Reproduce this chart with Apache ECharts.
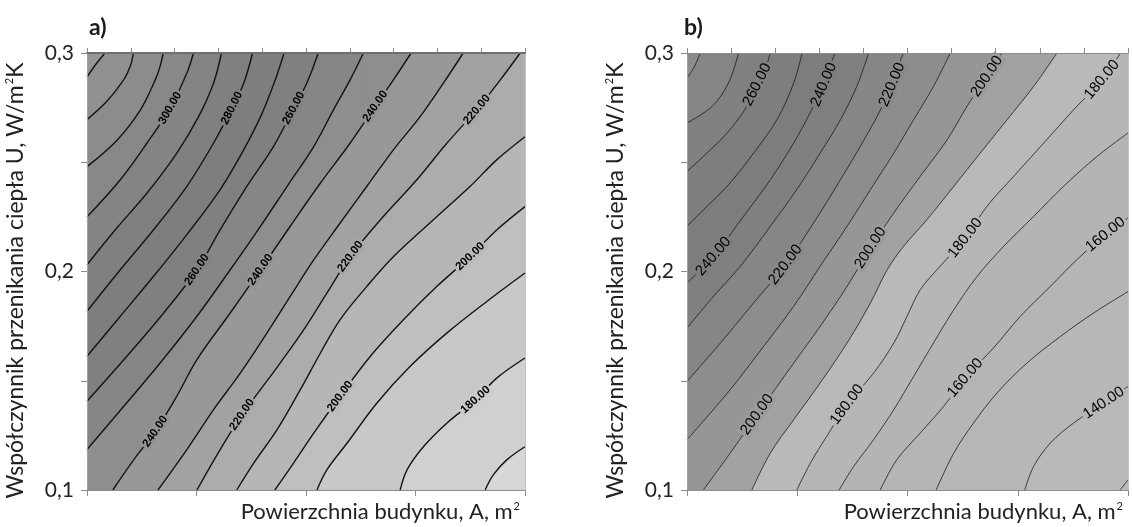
<!DOCTYPE html>
<html><head><meta charset="utf-8">
<script src="https://cdn.jsdelivr.net/npm/echarts@6/dist/echarts.min.js"></script>
<style>html,body{margin:0;padding:0;background:#fff}#c{width:1132px;height:527px}</style>
</head><body><div id="c"></div>
<script>
// ---------- DATA (x: building area axis, 0-100 % of range; y: U, W/m2K) ----------
// Panel a) contour lines
const A330 = [[0,0.289],[1.9,0.2945],[4.1,0.300]];
const A320 = [[0,0.2695],[4.6,0.278],[8.4,0.2878],[9.9,0.294],[10.6,0.300]];
const A310 = [[0,0.248],[6.8,0.260],[12.2,0.274],[15.6,0.2878],[16.7,0.294],[17.4,0.300]];
const A300 = [[0,0.225],[7.6,0.242],[13.7,0.2588],[19.0,0.2748],[22.8,0.2908],[24.3,0.300]];
const A290 = [[0,0.2031],[6.8,0.2199],[13.7,0.2359],[20.5,0.2542],[25.5,0.271],[28.9,0.2863],[30.7,0.300]];
const A280 = [[0,0.1818],[7.6,0.2008],[15.2,0.2191],[22.8,0.239],[28.9,0.2588],[33.1,0.2748],[35.8,0.2863],[37.8,0.300]];
const A270 = [[0,0.1612],[7.6,0.1795],[15.2,0.1978],[22.8,0.2169],[30.4,0.2375],[35.8,0.2558],[40.0,0.2725],[43.0,0.2878],[45.0,0.300]];
const A260 = [[0,0.1406],[9.1,0.1612],[17.5,0.181],[25.1,0.2008],[30.4,0.2191],[36.5,0.239],[42.6,0.2573],[47.2,0.2748],[50.2,0.2863],[52.8,0.300]];
const A250 = [[0,0.1185],[8.4,0.1383],[16.7,0.1581],[25.1,0.1795],[32.7,0.2008],[39.6,0.2207],[45.7,0.239],[51.8,0.2573],[56.3,0.2741],[60.1,0.2878],[63.1,0.300]];
const A240 = [[5.9,0.100],[10.7,0.1139],[15.6,0.1268],[20.5,0.1429],[25.1,0.1597],[32.7,0.181],[39.6,0.2008],[46.4,0.2207],[53.3,0.2405],[60.1,0.2588],[65.8,0.2756],[70.0,0.2878],[74.0,0.300]];
const A230 = [[16.2,0.100],[22.8,0.1185],[28.9,0.1368],[35.0,0.1535],[41.1,0.1719],[46.4,0.1886],[51.8,0.2054],[57.8,0.2222],[63.9,0.239],[70.0,0.2558],[76.1,0.271],[81.4,0.2863],[85.9,0.300]];
const A220 = [[25.1,0.100],[30.4,0.1185],[35.4,0.1345],[39.6,0.1459],[44.1,0.1581],[49.5,0.1734],[54.8,0.1902],[60.1,0.2069],[67.0,0.2237],[75.3,0.242],[82.2,0.2588],[89.0,0.2741],[94.4,0.2878],[98.9,0.300]];
const A210 = [[34.2,0.100],[38.1,0.1124],[43.4,0.1276],[48.7,0.1459],[53.3,0.1627],[57.8,0.178],[63.9,0.1932],[70.0,0.2069],[79.1,0.2237],[87.5,0.239],[93.6,0.2512],[100,0.2617]];
const A200 = [[42.9,0.100],[47.2,0.1124],[51.8,0.1261],[57.8,0.1429],[64.7,0.1612],[72.3,0.178],[79.9,0.1932],[87.5,0.2069],[93.6,0.2191],[100,0.2297]];
const A190 = [[52.5,0.100],[54.8,0.1093],[59.4,0.1215],[66.2,0.1398],[73.8,0.1566],[82.2,0.1719],[91.3,0.1863],[100,0.1993]];
const A180 = [[71.5,0.100],[73.1,0.1093],[76.9,0.12],[82.2,0.1307],[88.7,0.1413],[93.6,0.1513],[100,0.1604]];
const A170 = [[90.9,0.100],[92.8,0.107],[95.9,0.1139],[100,0.1198]];
// Panel a) contour labels: [x, y, value]
const labelsA = [[19.0,0.2748,300],[33.1,0.2748,280],[47.2,0.2748,260],[65.8,0.2756,240],[89.0,0.2741,220],
  [25.1,0.2008,260],[39.6,0.2008,240],[60.1,0.2069,220],[87.5,0.2069,200],
  [15.6,0.1268,240],[35.4,0.1345,220],[57.8,0.1429,200],[88.7,0.1413,180]];

// Panel b) contour lines
const B280 = [[0,0.2886],[1.5,0.2931],[3.0,0.300]];
const B270 = [[0,0.268],[5.7,0.2756],[9.4,0.2863],[11.7,0.300]];
const B260 = [[0,0.2458],[4.5,0.2542],[9.1,0.2634],[13.6,0.2756],[15.9,0.2855],[17.4,0.2908],[18.9,0.300]];
const B250 = [[0,0.2207],[4.5,0.2298],[9.1,0.239],[15.1,0.2542],[20.4,0.2695],[24.2,0.2863],[26.1,0.300]];
const B240 = [[0,0.1947],[6.0,0.2069],[12.8,0.2252],[18.9,0.242],[24.2,0.2588],[28.3,0.2741],[31.0,0.2855],[32.1,0.2924],[33.6,0.300]];
const B230 = [[0,0.1741],[6.0,0.1886],[12.1,0.2024],[18.9,0.2207],[24.9,0.2375],[30.2,0.2542],[34.8,0.2695],[38.5,0.2847],[41.2,0.300]];
const B220 = [[0,0.1497],[7.6,0.1673],[15.1,0.1856],[22.3,0.2031],[28.7,0.2222],[34.8,0.242],[39.3,0.2573],[43.5,0.2725],[46.5,0.2855],[47.6,0.2924],[49.1,0.300]];
const B210 = [[0,0.123],[9.8,0.1459],[17.4,0.1658],[24.2,0.1841],[30.2,0.2024],[36.3,0.2207],[41.6,0.2375],[46.9,0.2542],[51.4,0.2695],[55.9,0.2847],[59.7,0.300]];
const B200 = [[3.7,0.100],[9.8,0.1169],[15.9,0.1345],[24.2,0.1581],[30.2,0.1749],[36.3,0.1932],[41.6,0.2108],[46.9,0.2268],[52.9,0.2436],[59.0,0.2603],[63.5,0.2756],[68.0,0.2893],[71.4,0.300]];
const B190 = [[14.7,0.100],[18.9,0.1169],[24.2,0.1322],[30.2,0.149],[36.3,0.1673],[41.6,0.1856],[45.4,0.2008],[49.1,0.2115],[54.4,0.2237],[60.5,0.239],[66.5,0.2542],[72.6,0.2695],[78.6,0.2847],[83.9,0.300]];
const B180 = [[24.9,0.100],[28.0,0.1124],[31.7,0.1246],[36.3,0.1391],[42.3,0.1535],[46.9,0.1673],[49.9,0.1795],[52.9,0.1917],[57.4,0.2024],[63.1,0.2153],[68.0,0.2298],[74.1,0.2436],[80.9,0.2588],[87.7,0.2741],[94.1,0.2878],[98.3,0.300]];
const B170 = [[34.5,0.100],[37.8,0.1108],[42.3,0.123],[46.9,0.1368],[51.4,0.152],[55.9,0.1673],[60.5,0.1825],[65.8,0.1978],[71.8,0.2115],[78.6,0.2252],[85.4,0.239],[93.0,0.2527],[100,0.2634]];
const B160 = [[43.8,0.100],[47.6,0.1139],[52.9,0.1261],[58.2,0.1383],[63.1,0.1513],[69.5,0.165],[75.6,0.1795],[82.4,0.1932],[88.4,0.2054],[94.9,0.2169],[100,0.2245]];
const B150 = [[56.5,0.100],[60.5,0.1169],[65.0,0.1307],[70.3,0.1444],[77.1,0.1581],[84.7,0.1703],[92.2,0.181],[100,0.1908]];
const B140 = [[76.6,0.100],[78.6,0.1108],[82.4,0.1215],[87.7,0.1307],[94.5,0.1398],[100,0.1474]];
const B130 = [[98.2,0.100],[100,0.1046]];
// Panel b) contour labels: [x, y, value]
const labelsB = [[15.9,0.2855,260],[31.0,0.2855,240],[46.5,0.2855,220],[68.0,0.2893,200],[94.1,0.2878,180],
  [6.0,0.2069,240],[22.3,0.2031,220],[41.6,0.2108,200],[63.1,0.2153,180],[94.9,0.2169,160],
  [15.9,0.1345,200],[36.3,0.1391,180],[63.1,0.1513,160],[94.5,0.1398,140]];

// Axis settings
const X_MIN = 0, X_MAX = 100;
const Y_MIN = 0.1, Y_MAX = 0.3;
const titles = ['a)', 'b)'];
const xName = 'Powierzchnia budynku, A, m{sup|2}';
const yName = 'Współczynnik przenikania ciepła U, W/m{sup|2}K';

// ---------- STYLE ----------
const contoursA = [[330,A330],[320,A320],[310,A310],[300,A300],[290,A290],[280,A280],[270,A270],[260,A260],[250,A250],[240,A240],[230,A230],[220,A220],[210,A210],[200,A200],[190,A190],[180,A180],[170,A170]];
const contoursB = [[280,B280],[270,B270],[260,B260],[250,B250],[240,B240],[230,B230],[220,B220],[210,B210],[200,B200],[190,B190],[180,B180],[170,B170],[160,B160],[150,B150],[140,B140],[130,B130]];
// colour of the band just below each contour level
const fillA = {340:'#969696',330:'#919191',320:'#8c8c8c',310:'#888888',300:'#848484',290:'#808080',280:'#7e7e7e',270:'#808080',260:'#868686',250:'#8e8e8e',240:'#989898',230:'#a2a2a2',220:'#acacac',210:'#b6b6b6',200:'#bfbfbf',190:'#c8c8c8',180:'#d0d0d0',170:'#d7d7d7'};
const fillB = {290:'#8c8c8c',280:'#868686',270:'#818181',260:'#7e7e7e',250:'#7d7d7d',240:'#808080',230:'#868686',220:'#8d8d8d',210:'#969696',200:'#a2a2a2',190:'#b9b9b9',180:'#b6b6b6',170:'#b4b4b4',160:'#b5b5b5',150:'#b7b7b7',140:'#b9b9b9',130:'#bbbbbb'};

const FONT = 'Lato, "Open Sans", sans-serif';
const SMOOTH = 0.35;

function mix(c1, c2) {
  const a = parseInt(c1.slice(1), 16), b = parseInt(c2.slice(1), 16);
  const r = ((a >> 16) + (b >> 16)) >> 1, g = (((a >> 8) & 255) + ((b >> 8) & 255)) >> 1, bl = ((a & 255) + (b & 255)) >> 1;
  return 'rgb(' + r + ',' + g + ',' + bl + ')';
}

const panels = [
  {contours: contoursA, fill: fillA, top: 340, labels: labelsA, lw: 1.4, lc: '#141414',
   labelFont: 'bold 11.5px "Liberation Sans", Arial, sans-serif', topAxisColor: '#6e6e6e', topAxisW: 2},
  {contours: contoursB, fill: fillB, top: 290, labels: labelsB, lw: 0.8, lc: '#1a1a1a',
   labelFont: '15px "Liberation Sans", Arial, sans-serif', topAxisColor: '#8a8a8a', topAxisW: 1}
];
const grids = [
  {left: 87, top: 53, width: 438, height: 437},
  {left: 687, top: 53, width: 441, height: 437}
];
const titlePos = [84, 679];

const xAxes = [], yAxes = [], series = [], gridOpts = [], titleOpts = [];
panels.forEach((p, gi) => {
  gridOpts.push(Object.assign({show: true, backgroundColor: p.fill[p.top], borderWidth: 0}, grids[gi]));
  titleOpts.push({text: titles[gi], left: titlePos[gi], top: 11,
    textStyle: {fontFamily: FONT, fontSize: 23, fontWeight: 'bold', color: '#1a1a1a'}});
  const supRich = {sup: {fontFamily: FONT, fontSize: 11, color: '#222', verticalAlign: 'top', padding: [0, 0, 0, 1]}};
  xAxes.push({gridIndex: gi, type: 'value', position: 'bottom', min: X_MIN, max: X_MAX, interval: 25, z: 20,
    axisLine: {show: true, onZero: false, lineStyle: {color: '#8c8c8c', width: 1}},
    axisTick: {show: true, length: 6, lineStyle: {color: '#8c8c8c'}},
    axisLabel: {show: false}, splitLine: {show: false},
    name: xName, nameLocation: 'end', nameGap: -5,
    nameTextStyle: {fontFamily: FONT, fontSize: 22, color: '#222', align: 'right', verticalAlign: 'top',
      padding: [11, 0, 0, 0], rich: supRich}});
  xAxes.push({gridIndex: gi, type: 'value', position: 'top', min: X_MIN, max: X_MAX, interval: 10, z: 20,
    axisLine: {show: true, onZero: false, lineStyle: {color: p.topAxisColor, width: p.topAxisW}},
    axisTick: {show: true, length: 5, lineStyle: {color: '#8c8c8c'}},
    axisLabel: {show: false}, splitLine: {show: false}});
  yAxes.push({gridIndex: gi, type: 'value', position: 'left', min: Y_MIN, max: Y_MAX, interval: 0.05, z: 20,
    axisLine: {show: true, onZero: false, lineStyle: {color: '#a0a0a0', width: 1}},
    axisTick: {show: true, length: 6, lineStyle: {color: '#8c8c8c'}},
    axisLabel: {fontFamily: FONT, fontSize: 21, color: '#222', margin: 13,
      formatter: v => { const t = Math.round(v * 100); return t % 10 === 0 ? (t / 100).toFixed(1).replace('.', ',') : ''; }},
    splitLine: {show: false},
    name: yName, nameLocation: 'middle', nameGap: 60, nameRotate: 90,
    nameTextStyle: {fontFamily: FONT, fontSize: 23, color: '#222', padding: [0, 18, 0, 0], rich: supRich}});
  yAxes.push({gridIndex: gi, type: 'value', position: 'right', min: Y_MIN, max: Y_MAX, z: 20,
    axisLine: {show: true, onZero: false, lineStyle: {color: '#c4c4c4', width: 1}},
    axisTick: {show: false}, axisLabel: {show: false}, splitLine: {show: false}});

  const xi = gi * 2, yi = gi * 2;
  // filled bands: area under each contour, from highest level to lowest
  p.contours.forEach(([v, pts]) => {
    const col = p.fill[v];
    series.push({type: 'line', xAxisIndex: xi, yAxisIndex: yi, data: pts, symbol: 'none', smooth: SMOOTH,
      silent: true, animation: false, lineStyle: {width: 0, opacity: 0}, areaStyle: {color: col, opacity: 1, origin: 'start'}, z: 2});
    const last = pts[pts.length - 1];
    if (last[1] >= Y_MAX - 1e-9 && last[0] < X_MAX) {
      series.push({type: 'line', xAxisIndex: xi, yAxisIndex: yi, data: [[last[0], Y_MAX], [X_MAX, Y_MAX]], symbol: 'none',
        silent: true, animation: false, lineStyle: {width: 0, opacity: 0}, areaStyle: {color: col, opacity: 1, origin: 'start'}, z: 2});
    }
  });
  // contour strokes
  p.contours.forEach(([v, pts]) => {
    series.push({type: 'line', xAxisIndex: xi, yAxisIndex: yi, data: pts, symbol: 'none', smooth: SMOOTH,
      silent: true, animation: false, lineStyle: {color: p.lc, width: p.lw}, z: 5});
  });
  // contour labels
  const lookup = {};
  p.contours.forEach(([v, pts]) => { lookup[v] = pts; });
  series.push({type: 'custom', coordinateSystem: 'cartesian2d', xAxisIndex: xi, yAxisIndex: yi, data: p.labels,
    silent: true, animation: false, z: 8,
    renderItem: (params, api) => {
      const x = api.value(0), y = api.value(1), v = api.value(2);
      const pts = lookup[v];
      let best = 0, bd = Infinity;
      pts.forEach((q, i) => { const d = Math.hypot(q[0] - x, (q[1] - y) * 500); if (d < bd) { bd = d; best = i; } });
      const a = api.coord(pts[Math.max(0, best - 1)]), b = api.coord(pts[Math.min(pts.length - 1, best + 1)]);
      const c = api.coord([x, y]);
      const ang = Math.atan2(a[1] - b[1], b[0] - a[0]);
      const bg = mix(p.fill[v], p.fill[v + 10]);
      return {type: 'text', x: c[0], y: c[1], rotation: ang,
        style: {text: v.toFixed(2), font: p.labelFont, fill: '#000', align: 'center', verticalAlign: 'middle',
          backgroundColor: bg, padding: [0, 2]}};
    }});
});

const chart = echarts.init(document.getElementById('c'), null, {renderer: 'canvas'});
chart.setOption({
  animation: false,
  backgroundColor: '#ffffff',
  title: titleOpts,
  grid: gridOpts,
  xAxis: xAxes,
  yAxis: yAxes,
  series: series
});
</script>
</body></html>
